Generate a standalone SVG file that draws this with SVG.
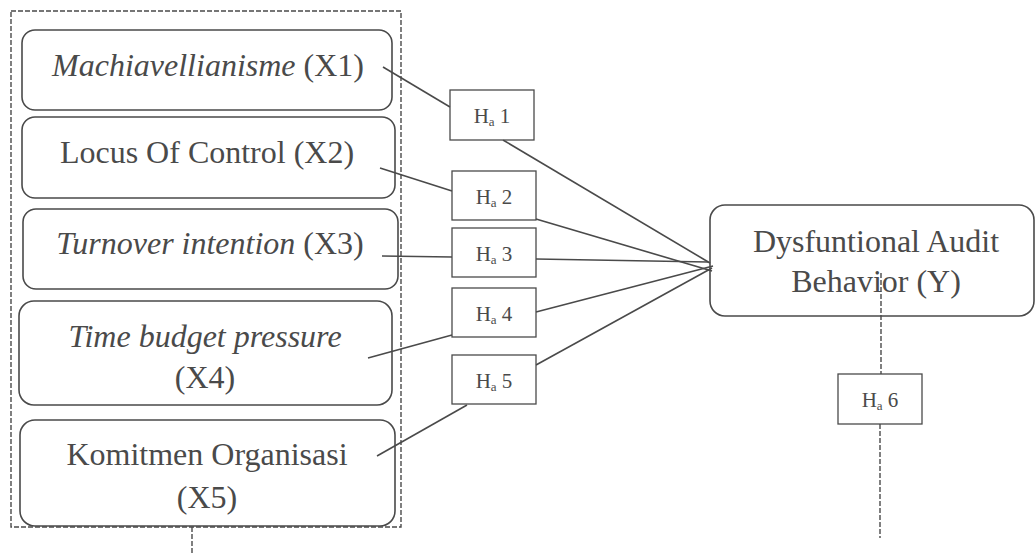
<svg xmlns="http://www.w3.org/2000/svg" width="1036" height="553" viewBox="0 0 1036 553">
<style>
.box{fill:none;stroke:#4a4a4a;stroke-width:1.6}
.hb{fill:#fff;fill-opacity:0.6;stroke:#4a4a4a;stroke-width:1.3}
.t{font-family:"Liberation Serif","Times New Roman",serif;font-size:32px;fill:#4a4a4a;text-anchor:middle}
.h{font-family:"Liberation Serif","Times New Roman",serif;font-size:21px;fill:#4a4a4a;text-anchor:middle}
.sub{font-size:13px}
.ln{stroke:#4a4a4a;stroke-width:1.6;fill:none}
.dash{stroke:#4a4a4a;stroke-width:1.4;fill:none;stroke-dasharray:5 2}
</style>
<rect width="1036" height="553" fill="#fff"/>
<g id="group-frame">
<rect x="11" y="11" width="390" height="516" class="dash"/>
</g>
<g id="connectors">
<line x1="383" y1="67" x2="450" y2="107" class="ln"/>
<line x1="503" y1="140" x2="710" y2="263" class="ln"/>
<line x1="380" y1="168" x2="452" y2="191" class="ln"/>
<line x1="536" y1="219" x2="712" y2="271" class="ln"/>
<line x1="382" y1="256" x2="452" y2="257" class="ln"/>
<line x1="536" y1="259" x2="708" y2="262" class="ln"/>
<line x1="368" y1="358" x2="452" y2="335" class="ln"/>
<line x1="536" y1="312" x2="713" y2="266" class="ln"/>
<line x1="377" y1="456" x2="467" y2="405" class="ln"/>
<line x1="536" y1="365" x2="712" y2="268" class="ln"/>
<line x1="881" y1="273" x2="881" y2="374" class="dash"/>
<line x1="880" y1="424" x2="880" y2="538" class="dash"/>
<line x1="192" y1="527" x2="192" y2="553" class="dash"/>
</g>
<g id="x1">
<rect x="22" y="30" width="370" height="80" rx="13" class="box"/>
<text x="208" y="76" class="t"><tspan font-style="italic">Machiavellianisme</tspan> (X1)</text>
</g>
<g id="x2">
<rect x="22" y="117" width="373" height="81" rx="13" class="box"/>
<text x="207" y="163" class="t">Locus Of Control (X2)</text>
</g>
<g id="x3">
<rect x="23" y="209" width="375" height="80" rx="13" class="box"/>
<text x="210" y="254" class="t"><tspan font-style="italic">Turnover intention</tspan> (X3)</text>
</g>
<g id="x4">
<rect x="19" y="301" width="373" height="104" rx="15" class="box"/>
<text x="205" y="347" class="t" font-style="italic">Time budget pressure</text>
<text x="205" y="388" class="t">(X4)</text>
</g>
<g id="x5">
<rect x="20" y="420" width="375" height="106" rx="15" class="box"/>
<text x="207" y="465" class="t">Komitmen Organisasi</text>
<text x="207" y="508" class="t">(X5)</text>
</g>
<g id="y">
<rect x="710" y="205" width="324" height="111" rx="15" class="box"/>
<text x="876" y="252" class="t">Dysfuntional Audit</text>
<text x="876" y="292" class="t">Behavior (Y)</text>
</g>
<g id="ha1">
<rect x="450" y="90" width="84" height="50" class="hb"/>
<text x="492" y="123" class="h">H<tspan class="sub" dy="3">a</tspan><tspan dy="-3"> 1</tspan></text>
</g>
<g id="ha2">
<rect x="452" y="171" width="84" height="49" class="hb"/>
<text x="494" y="204" class="h">H<tspan class="sub" dy="3">a</tspan><tspan dy="-3"> 2</tspan></text>
</g>
<g id="ha3">
<rect x="452" y="228" width="84" height="49" class="hb"/>
<text x="494" y="261" class="h">H<tspan class="sub" dy="3">a</tspan><tspan dy="-3"> 3</tspan></text>
</g>
<g id="ha4">
<rect x="452" y="288" width="84" height="49" class="hb"/>
<text x="494" y="321" class="h">H<tspan class="sub" dy="3">a</tspan><tspan dy="-3"> 4</tspan></text>
</g>
<g id="ha5">
<rect x="452" y="355" width="84" height="49" class="hb"/>
<text x="494" y="388" class="h">H<tspan class="sub" dy="3">a</tspan><tspan dy="-3"> 5</tspan></text>
</g>
<g id="ha6">
<rect x="838" y="374" width="84" height="50" class="hb"/>
<text x="880" y="407" class="h">H<tspan class="sub" dy="3">a</tspan><tspan dy="-3"> 6</tspan></text>
</g>
</svg>
